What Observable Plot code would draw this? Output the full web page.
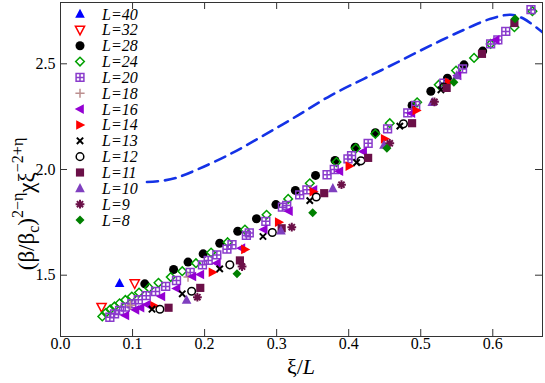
<!DOCTYPE html>
<html>
<head>
<meta charset="utf-8">
<script src="https://cdn.jsdelivr.net/npm/d3@7"></script>
<script src="https://cdn.jsdelivr.net/npm/@observablehq/plot@0.6"></script>
<style>
  html, body { margin: 0; padding: 0; background: #fff; }
  svg { display: block; }
</style>
</head>
<body>
<script>
// ---------- data ----------
const xTicks = [0.0, 0.1, 0.2, 0.3, 0.4, 0.5, 0.6];
const yTicks = [1.5, 2.0, 2.5];
const legendLabels = ["L=40","L=32","L=28","L=24","L=20","L=18","L=16","L=14","L=13","L=12","L=11","L=10","L=9","L=8"];

const xL40 = [0.082];
const yL40 = [1.462];
const xL32 = [0.057, 0.103];
const yL32 = [1.349, 1.461];
const xL28 = [0.117,0.157,0.177,0.198,0.221,0.246,0.272,0.299,0.326,0.354,0.381,0.409,0.437,0.488,0.514,0.537,0.560,0.586];
const yL28 = [1.459,1.527,1.562,1.601,1.651,1.708,1.767,1.834,1.901,1.972,2.043,2.105,2.174,2.303,2.370,2.432,2.495,2.560];
const xL24 = [0.058,0.063,0.069,0.075,0.082,0.090,0.099,0.109,0.123,0.136,0.153,0.169,0.188,0.209,0.232,0.256,0.286,0.316,0.346,0.383,0.410,0.437,0.457,0.495,0.525,0.549,0.574,0.597,0.630,0.655];
const yL24 = [1.305,1.322,1.338,1.352,1.367,1.383,1.399,1.418,1.440,1.464,1.491,1.519,1.557,1.607,1.656,1.716,1.786,1.861,1.935,2.035,2.100,2.169,2.219,2.318,2.401,2.468,2.528,2.594,2.673,2.749];
const xL20 = [0.0685,0.075,0.082,0.090,0.099,0.108,0.119,0.132,0.146,0.161,0.180,0.197,0.205,0.217,0.231,0.238,0.258,0.262,0.285,0.308,0.314,0.332,0.342,0.370,0.380,0.399,0.404,0.427,0.454,0.482,0.493,0.532,0.558,0.597,0.607,0.618,0.653];
const yL20 = [1.301,1.317,1.333,1.349,1.365,1.384,1.403,1.423,1.447,1.475,1.513,1.549,1.570,1.596,1.623,1.644,1.688,1.700,1.755,1.822,1.830,1.880,1.904,1.975,2.000,2.050,2.066,2.124,2.192,2.268,2.303,2.408,2.476,2.594,2.613,2.653,2.756];
const xL18 = [0.097, 0.177];
const yL18 = [1.357, 1.491];
const xL16 = [0.090,0.104,0.111,0.120,0.140,0.161,0.183,0.194,0.217,0.251,0.282,0.317,0.351,0.387,0.420,0.487,0.551,0.604];
const yL16 = [1.309,1.336,1.346,1.361,1.399,1.437,1.494,1.503,1.557,1.628,1.716,1.803,1.904,1.992,2.085,2.266,2.445,2.613];
const xL14 = [0.130,0.211,0.256,0.303,0.351,0.401,0.450,0.494,0.539];
const yL14 = [1.355,1.514,1.622,1.751,1.895,2.016,2.145,2.279,2.413];
const xL13 = [0.127,0.169,0.221,0.281,0.346,0.411,0.471,0.528];
const yL13 = [1.339,1.412,1.530,1.683,1.853,2.033,2.205,2.377];
const xL12 = [0.138,0.182,0.235,0.294,0.355,0.417,0.476,0.532];
const yL12 = [1.339,1.424,1.549,1.702,1.870,2.041,2.216,2.390];
const xL11 = [0.150,0.194,0.249,0.307,0.366,0.427,0.488,0.536,0.585,0.630];
const yL11 = [1.346,1.440,1.570,1.722,1.888,2.055,2.219,2.386,2.547,2.693];
const xL10 = [0.175,0.306,0.378,0.449,0.516,0.550];
const yL10 = [1.383,1.711,1.911,2.116,2.318,2.445];
const xL9 = [0.190,0.252,0.321,0.390,0.457,0.519];
const yL9 = [1.396,1.541,1.727,1.928,2.124,2.320];
const xL8 = [0.245,0.350,0.453,0.546,0.631];
const yL8 = [1.507,1.795,2.101,2.413,2.713];

const xCurve = [0.120,0.140,0.160,0.190,0.236,0.282,0.329,0.375,0.421,0.468,0.514,0.560,0.597,0.625,0.643,0.669];
const yCurve = [1.941,1.946,1.960,2.000,2.074,2.161,2.255,2.350,2.429,2.508,2.587,2.661,2.713,2.732,2.713,2.649];

// ---------- symbols ----------
const mk = f => ({ draw(c, size) { const r = Math.sqrt(size / Math.PI); f(c, r); } });
const triUp = mk((c, r) => { c.moveTo(0, -1.1 * r); c.lineTo(r, 0.8 * r); c.lineTo(-r, 0.8 * r); c.closePath(); });
const triDown = mk((c, r) => { c.moveTo(0, 1.1 * r); c.lineTo(r, -0.8 * r); c.lineTo(-r, -0.8 * r); c.closePath(); });
const triLeft = mk((c, r) => { c.moveTo(-1.1 * r, 0); c.lineTo(0.8 * r, -r); c.lineTo(0.8 * r, r); c.closePath(); });
const triRight = mk((c, r) => { c.moveTo(1.1 * r, 0); c.lineTo(-0.8 * r, -r); c.lineTo(-0.8 * r, r); c.closePath(); });
const circ = mk((c, r) => { c.moveTo(r, 0); c.arc(0, 0, r, 0, 2 * Math.PI); });
const diam = mk((c, r) => { c.moveTo(0, -r); c.lineTo(r, 0); c.lineTo(0, r); c.lineTo(-r, 0); c.closePath(); });
const sqCross = mk((c, r) => { const s = 0.85 * r; c.moveTo(-s, -s); c.lineTo(s, -s); c.lineTo(s, s); c.lineTo(-s, s); c.closePath();
  c.moveTo(-s, 0); c.lineTo(s, 0); c.moveTo(0, -s); c.lineTo(0, s); });
const sqFill = mk((c, r) => { const s = 0.85 * r; c.moveTo(-s, -s); c.lineTo(s, -s); c.lineTo(s, s); c.lineTo(-s, s); c.closePath(); });
const plus = mk((c, r) => { c.moveTo(-r, 0); c.lineTo(r, 0); c.moveTo(0, -r); c.lineTo(0, r); });
const times = mk((c, r) => { const s = 0.75 * r; c.moveTo(-s, -s); c.lineTo(s, s); c.moveTo(s, -s); c.lineTo(-s, s); });
const aster = mk((c, r) => { const s = 0.7 * r; c.moveTo(-r, 0); c.lineTo(r, 0); c.moveTo(0, -r); c.lineTo(0, r);
  c.moveTo(-s, -s); c.lineTo(s, s); c.moveTo(s, -s); c.lineTo(-s, s); });

const series = [
  { xs: xL40, ys: yL40, sym: triUp,   color: "#0000ff", filled: true,  r: 4.8 },
  { xs: xL32, ys: yL32, sym: triDown, color: "#ff0000", filled: false, r: 4.6 },
  { xs: xL28, ys: yL28, sym: circ,    color: "#000000", filled: true,  r: 4.5 },
  { xs: xL24, ys: yL24, sym: diam,    color: "#00a000", filled: false, r: 4.3 },
  { xs: xL20, ys: yL20, sym: sqCross, color: "#8a3ccc", filled: false, r: 4.6 },
  { xs: xL18, ys: yL18, sym: plus,    color: "#bc8f8f", filled: false, r: 4.6 },
  { xs: xL16, ys: yL16, sym: triLeft, color: "#9400d3", filled: true,  r: 4.8 },
  { xs: xL14, ys: yL14, sym: triRight,color: "#ff0000", filled: true,  r: 4.8 },
  { xs: xL13, ys: yL13, sym: times,   color: "#000000", filled: false, r: 4.2, sw: 2 },
  { xs: xL12, ys: yL12, sym: circ,    color: "#000000", filled: false, r: 3.8 },
  { xs: xL11, ys: yL11, sym: sqFill,  color: "#6b1048", filled: true,  r: 4.8 },
  { xs: xL10, ys: yL10, sym: triUp,   color: "#7f3fbf", filled: true,  r: 4.8 },
  { xs: xL9,  ys: yL9,  sym: aster,   color: "#6b1048", filled: false, r: 4.4, sw: 2 },
  { xs: xL8,  ys: yL8,  sym: diam,    color: "#008000", filled: true,  r: 4.5 }
];

// ---------- layout ----------
const W = 545, H = 383;
const mL = 60, mR = 3, mT = 2, mB = 47;
const plotH = H - mT - mB, plotW = W - mL - mR;
const tick = 7;
const FONT = "Liberation Serif";

const marks = [
  Plot.line(xCurve.map((x, i) => ({ x, y: yCurve[i] })), {
    x: "x", y: "y", stroke: "#1432e6", strokeWidth: 2.6, strokeDasharray: "11,7", curve: "catmull-rom", clip: true
  })
];
for (const s of series) {
  const data = s.xs.map((x, i) => ({ x, y: s.ys[i] }));
  marks.push(Plot.dot(data, {
    x: "x", y: "y", symbol: s.sym, r: s.r,
    fill: s.filled ? s.color : "none",
    stroke: s.filled ? "none" : s.color,
    strokeWidth: s.sw || 1.5
  }));
}
marks.push(
  Plot.ruleX(xTicks, { x: d => d, insetTop: plotH - tick, stroke: "#333" }),
  Plot.ruleX(xTicks, { x: d => d, insetBottom: plotH - tick, stroke: "#333" }),
  Plot.ruleY(yTicks, { y: d => d, insetRight: plotW - tick, stroke: "#333" }),
  Plot.ruleY(yTicks, { y: d => d, insetLeft: plotW - tick, stroke: "#333" }),
  Plot.frame({ stroke: "#333" }),
  Plot.axisX({ ticks: xTicks, tickFormat: d3.format(".1f"), tickSize: 0, tickPadding: 1, label: null, fontSize: 16 }),
  Plot.axisY({ ticks: yTicks, tickFormat: d3.format(".1f"), tickSize: 0, tickPadding: 5, label: null, fontSize: 16 })
);

const chart = Plot.plot({
  width: W, height: H,
  marginLeft: mL, marginRight: mR, marginTop: mT, marginBottom: mB,
  style: { fontSize: "16px", color: "#000", background: "#fff" },
  x: { domain: [0, 0.669] },
  y: { domain: [1.21, 2.79] },
  marks
});
document.body.appendChild(chart);

// ---------- labels & legend ----------
const svg = d3.select(chart);
// x label
const xl = svg.append("text").attr("x", 301).attr("y", 374).attr("text-anchor", "middle")
  .attr("font-size", 22).attr("fill", "#000");
xl.append("tspan").text("ξ/");
xl.append("tspan").attr("font-style", "italic").text("L");
// y label
const yl = svg.append("text").attr("transform", "translate(34,204) rotate(-90)").attr("text-anchor", "middle")
  .attr("font-size", 23).attr("fill", "#000");
yl.append("tspan").text("(β/β");
yl.append("tspan").attr("font-size", 16).attr("dy", 5).text("c");
yl.append("tspan").attr("dy", -5).text(")");
yl.append("tspan").attr("font-size", 16).attr("dy", -11).text("2−η");
yl.append("tspan").attr("dy", 11).text("χξ");
yl.append("tspan").attr("font-size", 16).attr("dy", -11).text("−2+η");

// legend
const lg = svg.append("g").attr("text-anchor", "start");
series.forEach((s, i) => {
  const cy = 14 + i * 15.85;
  lg.append("path")
    .attr("transform", `translate(80,${cy})`)
    .attr("d", d3.symbol(s.sym, Math.PI * s.r * s.r)())
    .attr("fill", s.filled ? s.color : "none")
    .attr("stroke", s.filled ? "none" : s.color)
    .attr("stroke-width", s.sw || 1.5);
  lg.append("text").attr("x", 102).attr("y", cy + 5.5).attr("text-anchor", "start")
    .attr("font-size", 16).attr("font-style", "italic").attr("fill", "#000")
    .text(legendLabels[i]);
});

// force serif font on every text
svg.attr("font-family", FONT).style("font-family", FONT);
svg.selectAll("text").attr("font-family", FONT).style("font-family", FONT);
</script>
</body>
</html>
